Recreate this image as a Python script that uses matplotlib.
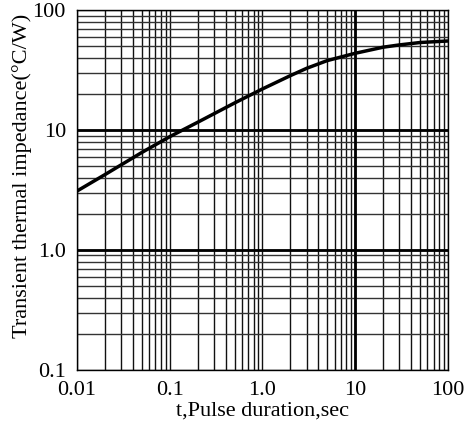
import numpy as np
import matplotlib.pyplot as plt
from matplotlib.ticker import FixedLocator, NullFormatter, LogLocator

# transient thermal impedance vs pulse duration
t = [0.01, 0.02, 0.05, 0.1, 0.2, 0.5, 1.0, 2.0, 3.0, 5.0, 10.0, 20.0, 30.0, 50.0, 100.0]
zth = [3.1, 4.25, 6.5, 8.8, 11.6, 16.8, 22.0, 28.4, 32.7, 37.9, 43.6, 49.0, 51.2, 53.6, 55.2]

xticks = [0.01, 0.1, 1.0, 10, 100]
xtick_labels = ['0.01', '0.1', '1.0', '10', '100']
yticks = [0.1, 1.0, 10, 100]
ytick_labels = ['0.1', '1.0', '10', '100']

plt.rcParams['font.family'] = ['Liberation Serif', 'DejaVu Serif']

fig = plt.figure(figsize=(4.65, 4.28), dpi=100)
ax = fig.add_axes([0.1656, 0.1355, 0.9634 - 0.1656, 0.9766 - 0.1355])
ax.set_xscale('log')
ax.set_yscale('log')
ax.set_xlim(0.01, 100)
ax.set_ylim(0.1, 100)

ax.xaxis.set_major_locator(FixedLocator(xticks))
ax.yaxis.set_major_locator(FixedLocator(yticks))
ax.set_xticklabels(xtick_labels)
ax.set_yticklabels(ytick_labels)
ax.xaxis.set_minor_locator(LogLocator(base=10, subs=np.arange(2, 10)))
ax.yaxis.set_minor_locator(LogLocator(base=10, subs=np.arange(2, 10)))
ax.xaxis.set_minor_formatter(NullFormatter())
ax.yaxis.set_minor_formatter(NullFormatter())
ax.tick_params(which='both', length=0, labelsize=16, pad=8)

ax.grid(True, which='both', axis='x', color='#111111', linewidth=1.0)
ax.grid(True, which='major', axis='y', color='#111111', linewidth=1.0)
ax.grid(True, which='minor', axis='y', color='#333333', linewidth=1.0)
# heavier reference lines
ax.axvline(10, color='black', linewidth=2.0)
ax.axhline(10, color='black', linewidth=2.0)
ax.axhline(1.0, color='black', linewidth=2.0)

ax.plot(t, zth, color='black', linewidth=2.5, solid_capstyle='butt')

for s in ax.spines.values():
    s.set_color('black')
    s.set_linewidth(1.0)

ax.set_xlabel('t,Pulse duration,sec', fontsize=16, labelpad=1)
ax.set_ylabel('Transient thermal impedance(\u00b0C/W)', fontsize=16)
ax.yaxis.set_label_coords(-0.12, 0.54)

fig.savefig('out.png', dpi=100)
